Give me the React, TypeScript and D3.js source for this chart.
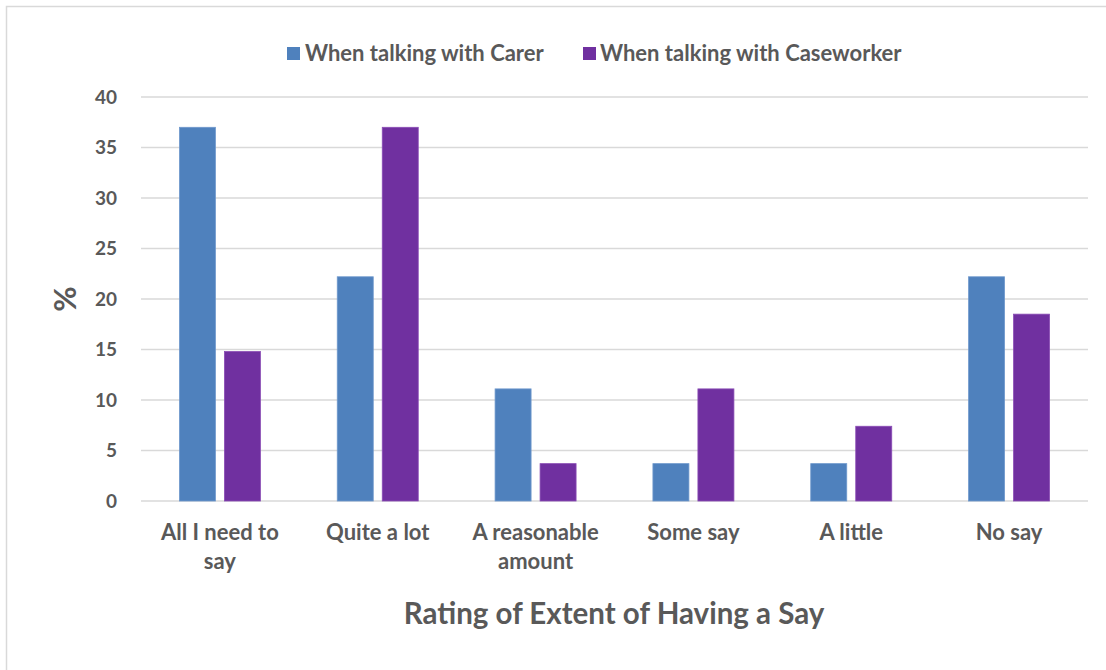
import React from "react";
import * as d3 from "d3";

const categories: string[][] = [
  ["All I need to", "say"],
  ["Quite a lot"],
  ["A reasonable", "amount"],
  ["Some say"],
  ["A little"],
  ["No say"],
];
const carer = [37.0, 22.2, 11.1, 3.7, 3.7, 22.2];
const caseworker = [14.8, 37.0, 3.7, 11.1, 7.4, 18.5];
const seriesNames = ["When talking with Carer", "When talking with Caseworker"];
const seriesColors = ["#4f81bd", "#7030a0"];
const yTicks = [0, 5, 10, 15, 20, 25, 30, 35, 40];

const W = 1106;
const H = 670;
const left = 141;
const right = 1088;
const top = 97;
const bottom = 501;
const font = "Lato, 'Open Sans', sans-serif";
const textColor = "#595959";

export default function App() {
  const x = d3
    .scaleBand<number>()
    .domain(d3.range(categories.length))
    .range([left, right]);
  const y = d3.scaleLinear().domain([0, 40]).range([bottom, top]);
  const barW = 36;
  const gap = 9;
  const series = [carer, caseworker];

  return (
    <svg
      width={W}
      height={H}
      style={{ position: "absolute", left: 0, top: 0, background: "#fff" }}
      fontFamily={font}
    >
      <rect x={6.5} y={6.5} width={1200} height={800} fill="#fff" stroke="#d9d9d9" strokeWidth={1.5} />
      {yTicks.map((t) => (
        <g key={t}>
          <line x1={left} x2={right} y1={y(t)} y2={y(t)} stroke="#d9d9d9" strokeWidth={1.5} />
          <text
            x={117}
            y={y(t)}
            dy="0.35em"
            textAnchor="end"
            fontSize={19}
            fontWeight="bold"
            fill={textColor}
          >
            {t}
          </text>
        </g>
      ))}
      {series.map((vals, si) =>
        vals.map((v, i) => {
          const cx = x(i)! + x.bandwidth() / 2;
          const bx = si === 0 ? cx - gap / 2 - barW : cx + gap / 2;
          return (
            <rect
              key={`${si}-${i}`}
              x={bx}
              y={y(v)}
              width={barW}
              height={y(0) - y(v)}
              fill={seriesColors[si]}
              stroke={si === 0 ? "#6f98cc" : "#8a4db5"}
              strokeWidth={0.8}
            />
          );
        })
      )}
      {categories.map((lines, i) => (
        <text
          key={i}
          x={x(i)! + x.bandwidth() / 2}
          y={540}
          textAnchor="middle"
          fontSize={22}
          fontWeight="bold"
          fill={textColor}
        >
          {lines.map((l, j) => (
            <tspan key={j} x={x(i)! + x.bandwidth() / 2} dy={j === 0 ? 0 : 29}>
              {l}
            </tspan>
          ))}
        </text>
      ))}
      <text
        transform={`translate(76, 299) rotate(-90)`}
        textAnchor="middle"
        fontSize={31}
        fontWeight="bold"
        fill={textColor}
      >
        %
      </text>
      <text x={614} y={624} textAnchor="middle" fontSize={29.5} fontWeight="bold" fill={textColor}>
        Rating of Extent of Having a Say
      </text>
      <g>
        <rect x={287} y={47} width={13} height={13} fill={seriesColors[0]} />
        <text x={305} y={61} fontSize={22} fontWeight="bold" fill={textColor}>
          {seriesNames[0]}
        </text>
        <rect x={583} y={47} width={13} height={13} fill={seriesColors[1]} />
        <text x={600} y={61} fontSize={22} fontWeight="bold" fill={textColor}>
          {seriesNames[1]}
        </text>
      </g>
    </svg>
  );
}
